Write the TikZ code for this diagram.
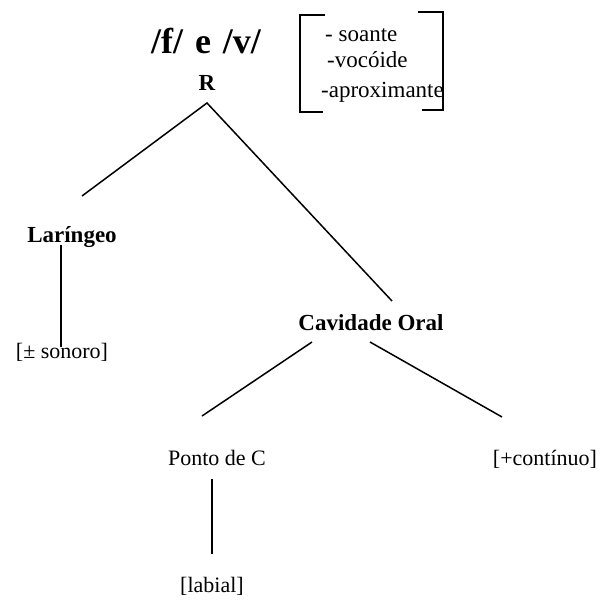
\documentclass[tikz,border=0pt]{standalone}
\usepackage{fontspec}
\setmainfont{Liberation Serif}
\begin{document}
\begin{tikzpicture}[x=1pt,y=-1pt,
  lbl/.style={inner sep=0pt, anchor=base, font=\fontsize{22}{26}\selectfont},
  blbl/.style={inner sep=0pt, anchor=base, font=\fontsize{23}{27}\selectfont\bfseries},
  feat/.style={inner sep=0pt, anchor=base west, font=\fontsize{23}{27}\selectfont},
  edge/.style={line width=1.5pt},
  brk/.style={line width=1.9pt}]
\useasboundingbox (0,0) rectangle (601,599);
% texts
\node[blbl, font=\fontsize{36}{42}\selectfont\bfseries] (title) at (206,54) {/f/\,\,e\,\,/v/};
\node[blbl, font=\fontsize{23}{27}\selectfont\bfseries] (R) at (207,91) {R};
\node[feat] (f1) at (325,42) {- soante};
\node[feat] (f2) at (327,68) {-vocóide};
\node[feat] (f3) at (321,97) {-aproximante};
\node[blbl] (lar) at (72,242) {Laríngeo};
\node[lbl] (son) at (62,358) {[± sonoro]};
\node[blbl] (cav) at (371,330) {Cavidade Oral};
\node[lbl] (pc) at (217,465) {Ponto de C};
\node[lbl] (cont) at (545,465) {[+contínuo]};
\node[lbl] (lab) at (212,592) {[labial]};
% brackets
\draw[brk] (325,15) -- (300,15) -- (300,112) -- (323,112);
\draw[brk] (418,12) -- (443,12) -- (443,110) -- (422,110);
% connector ends
\coordinate (Rb) at (207,103);
\coordinate (larT) at (82,196);
\coordinate (cavT) at (392,301);
\coordinate (larB) at (61,245);
\coordinate (sonT) at (61,347);
\coordinate (cavBL) at (312,342);
\coordinate (cavBR) at (370,342);
\coordinate (pcT) at (202,416);
\coordinate (contT) at (502,417);
\coordinate (pcB) at (212,479);
\coordinate (labT) at (212,554);
\draw[edge] (larT) -- (Rb) -- (cavT);
\draw[edge] (larB) -- (sonT);
\draw[edge] (cavBL) -- (pcT);
\draw[edge] (cavBR) -- (contT);
\draw[edge] (pcB) -- (labT);
\end{tikzpicture}
\end{document}
